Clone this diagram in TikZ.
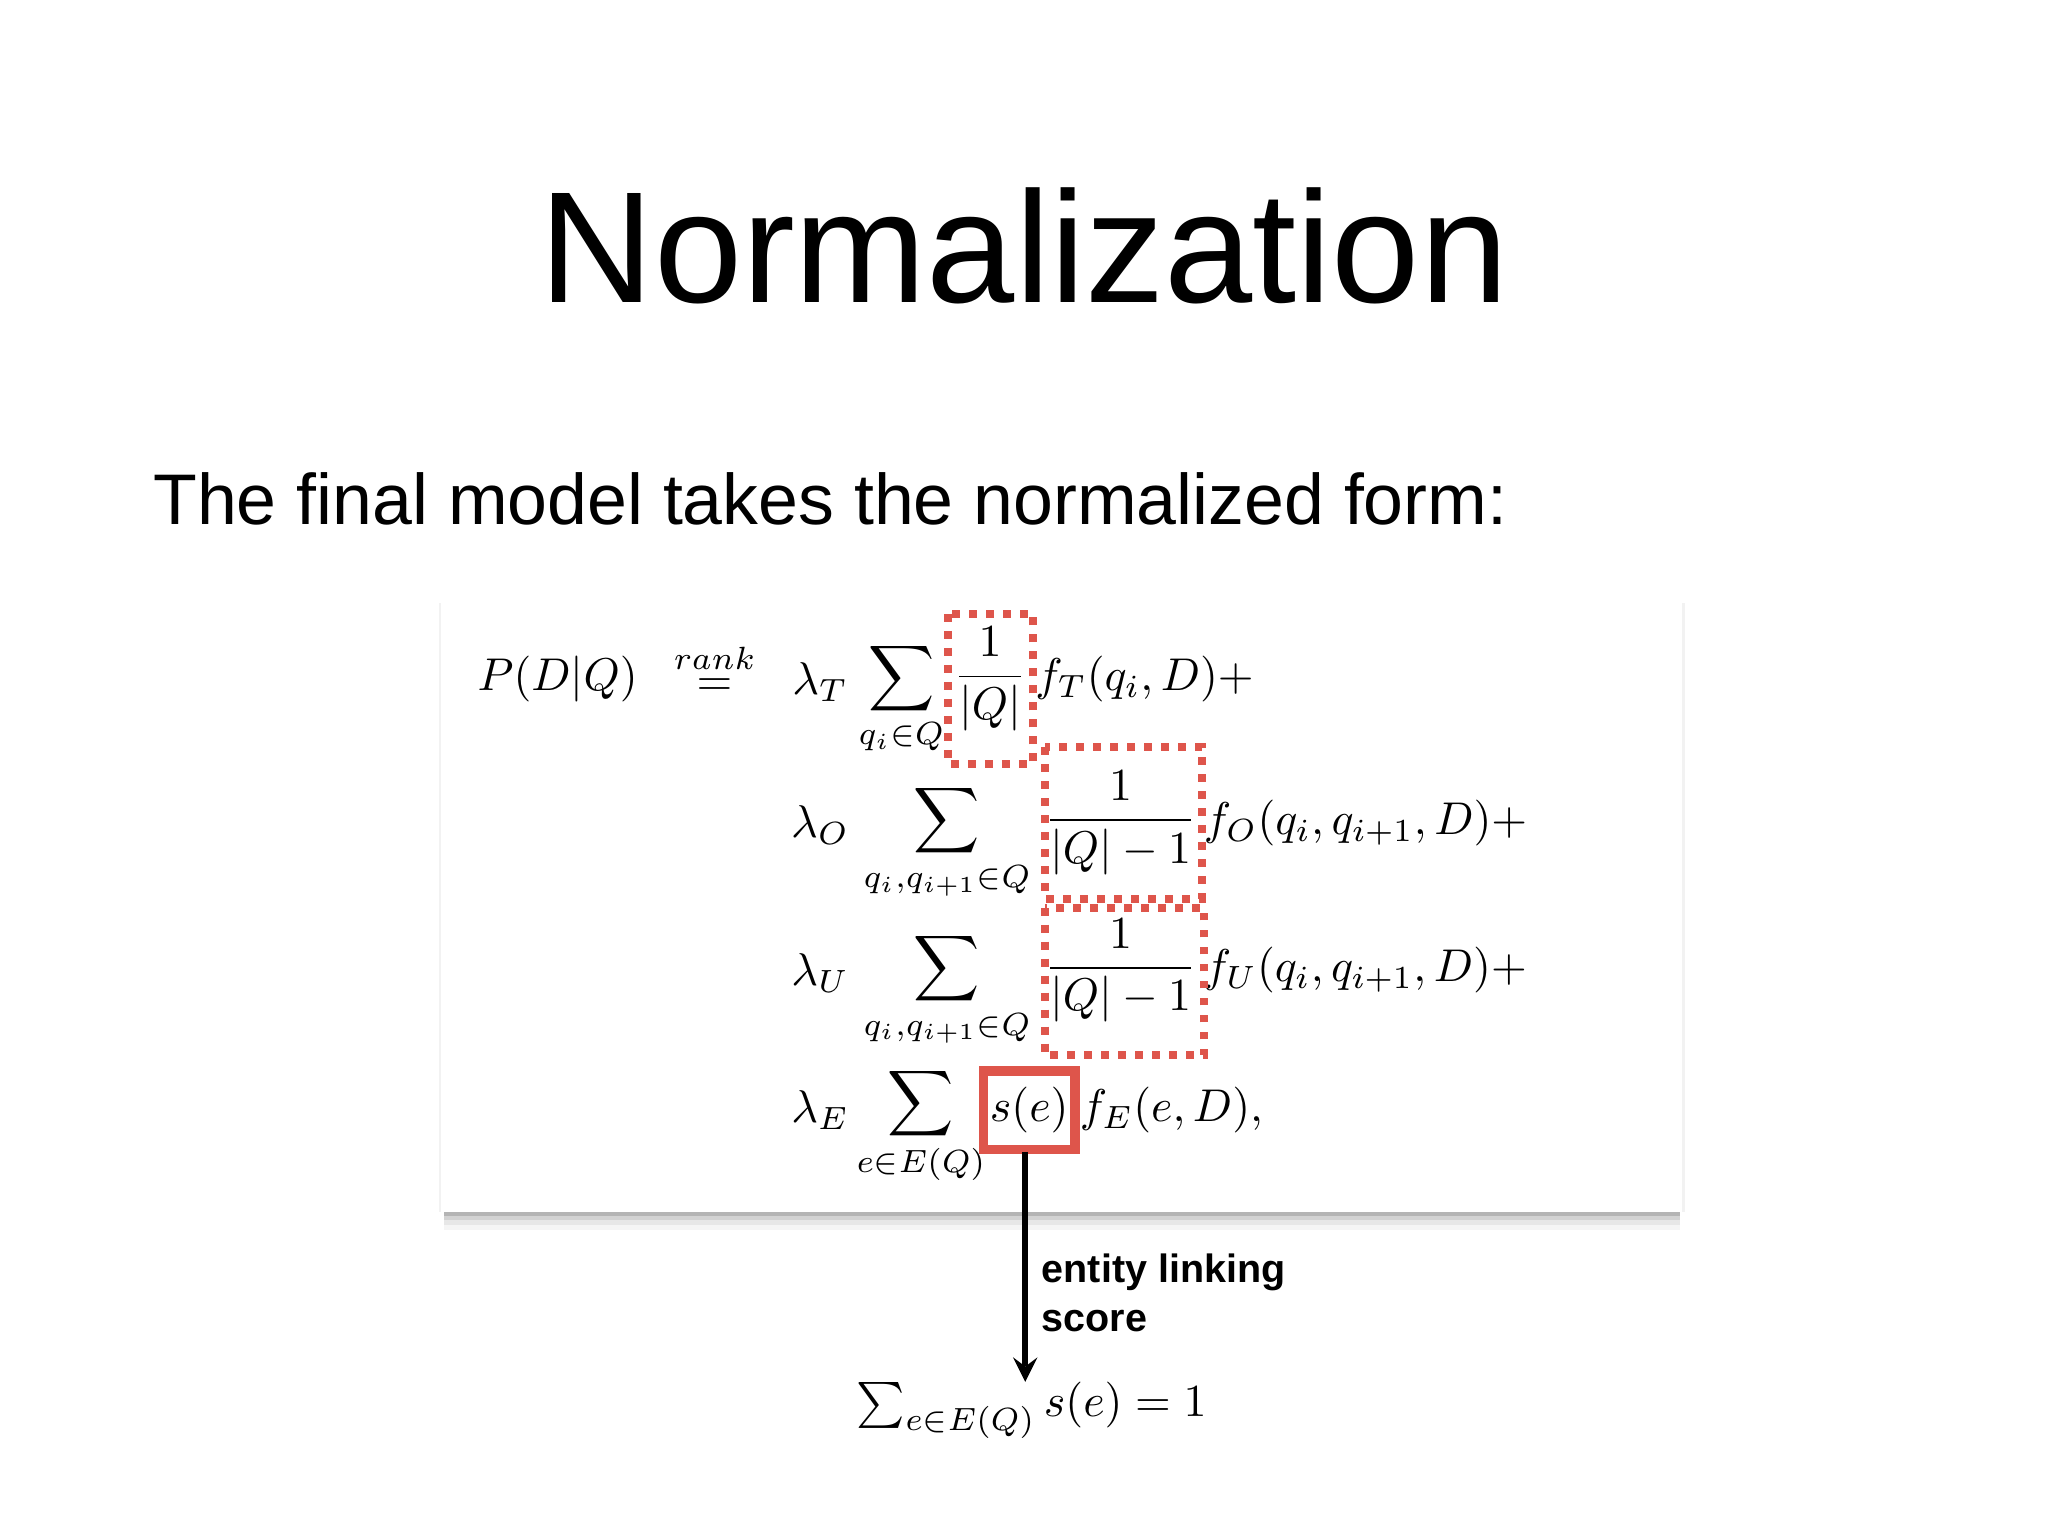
\documentclass[tikz,border=0pt]{standalone}
\usepackage{fontspec}
\setsansfont{Liberation Sans}
\begin{document}
\begin{tikzpicture}[x=0.01cm,y=-0.01cm,
  m/.style={inner sep=0pt,font=\fontsize{10.4}{13}\selectfont}]
\definecolor{rb}{RGB}{222,85,75}
\tikzset{redbox/.style={draw=rb,line width=2pt},dotbox/.style={draw=rb,line width=1.7pt,dotted}}
\useasboundingbox (0,0) rectangle (1568,1176);
% shadow
\foreach \i/\o in {14/0.04,10/0.06,6/0.09,3/0.14}{
  \fill[black,opacity=\o] (340,900) rectangle (1286,928+\i);}
\fill[black,opacity=0.05] (336,462) rectangle (1290,928);
\fill[white] (338,460) rectangle (1288,928);
\node (title) at (784,188) {\sffamily\fontsize{34.5}{40}\selectfont Normalization};
\node[anchor=west] (sub) at (105,382) {\sffamily\fontsize{15.6}{18}\selectfont The final model takes the normalized form:};
% row 1
\node[m] (p) at (427,520) {$P(D|Q)$};
\node[m] (rk) at (547,512) {$\stackrel{rank}{=}$};
\node[m] (l1) at (628,522) {$\lambda_T$};
\node[m] (s1) at (690,535) {$\displaystyle\sum_{q_i\in Q}$};
\node[m] (f1) at (758,520) {$\displaystyle\frac{1}{|Q|}$};
\node[m,anchor=west] (g1) at (792,520) {$f_T(q_i,D){+}$};
\draw[dotbox] (726,470) rectangle (791,585);
% row 2
\node[m] (l2) at (628,632) {$\lambda_O$};
\node[m] (s2) at (725,645) {$\displaystyle\sum_{q_i,q_{i+1}\in Q}$};
\node[m] (f2) at (858,630) {$\displaystyle\frac{1}{|Q|-1}$};
\node[m,anchor=west] (g2) at (921,630) {$f_O(q_i,q_{i+1},D){+}$};
\draw[dotbox] (800,572) rectangle (920,688);
% row 3
\node[m] (l3) at (628,745) {$\lambda_U$};
\node[m] (s3) at (725,758) {$\displaystyle\sum_{q_i,q_{i+1}\in Q}$};
\node[m] (f3) at (858,743) {$\displaystyle\frac{1}{|Q|-1}$};
\node[m,anchor=west] (g3) at (921,743) {$f_U(q_i,q_{i+1},D){+}$};
\draw[dotbox] (800,695) rectangle (922,808);
% row 4
\node[m] (l4) at (628,850) {$\lambda_E$};
\node[m] (s4) at (705,862) {$\displaystyle\sum_{e\in E(Q)}$};
\node[m] (se) at (788,850) {$s(e)$};
\node[m,anchor=west] (g4) at (826,850) {$f_E(e,D),$};
\draw[redbox] (753,820) rectangle (823,880);
\coordinate (a0) at (785,882);
\node[m] (bot) at (790,1080) {$\sum_{e\in E(Q)} s(e)=1$};
\draw[line width=1.3pt,-stealth] (a0) -- (785,1058);
\node[anchor=west,align=left,inner sep=0pt,font=\sffamily\bfseries\fontsize{8.6}{10.6}\selectfont] (lab) at (797,990) {entity linking\\score};
\end{tikzpicture}
\end{document}
